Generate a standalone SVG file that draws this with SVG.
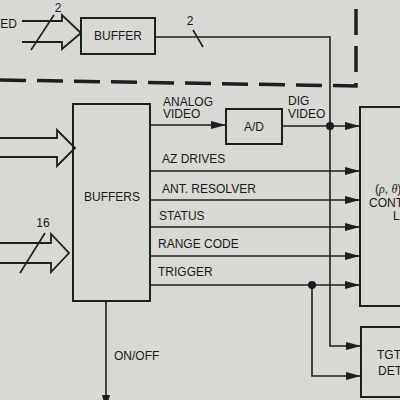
<svg xmlns="http://www.w3.org/2000/svg" width="400" height="400" viewBox="0 0 400 400">
<defs>
<marker id="ah" viewBox="0 0 15 8" refX="15" refY="4" markerWidth="15" markerHeight="8" markerUnits="userSpaceOnUse" orient="auto">
<path d="M0,0 L15,4 L0,8 Z" fill="#1e1e1e"/>
</marker>
<style>
.ln{fill:none;stroke:#1e1e1e;stroke-width:1.6}
.bx{fill:none;stroke:#1e1e1e;stroke-width:2}
.fat{fill:none;stroke:#1e1e1e;stroke-width:1.8;stroke-linejoin:miter}
.t{font-family:"Liberation Sans",Arial,sans-serif;font-size:12px;fill:#1a1a1a}
.it{font-family:"Liberation Serif","Times New Roman",serif;font-style:italic}
.dash{fill:none;stroke:#1e1e1e;stroke-width:3.5;stroke-dasharray:26 11}
</style>
</defs>
<rect width="400" height="400" fill="#d8d8d4"/>

<g id="boundary">
<path class="dash" d="M0,80 L356,86 L356,0"/>
</g>

<g id="input-top">
<text class="t" x="17" y="28" text-anchor="end">EED</text>
<path class="fat" d="M22,21 H62 V15 L81,33 L62,49 V42 H22"/>
<line class="ln" x1="31" y1="50" x2="54" y2="15"/>
<text class="t" x="58" y="12" text-anchor="middle">2</text>
</g>

<g id="buffer">
<rect class="bx" x="81" y="18" width="74" height="36"/>
<text class="t" x="118" y="40" text-anchor="middle">BUFFER</text>
</g>

<g id="input-left-1">
<path class="fat" d="M0,138 H57 V130 L75,148 L57,166 V157 H0"/>
</g>

<g id="input-left-2">
<path class="fat" d="M0,243 H51 V234 L69,253 L51,272 V263 H0"/>
<line class="ln" x1="20" y1="273" x2="45" y2="233"/>
<text class="t" x="43" y="227" text-anchor="middle">16</text>
</g>

<g id="buffers">
<rect class="bx" x="73" y="104" width="77" height="197"/>
<text class="t" x="112" y="201" text-anchor="middle">BUFFERS</text>
</g>

<g id="ad">
<rect class="bx" x="226" y="109" width="56" height="35"/>
<text class="t" x="254" y="131" text-anchor="middle">A/D</text>
</g>

<g id="controller">
<rect class="bx" x="360" y="107" width="50" height="199"/>
<text class="t" x="375" y="193">(<tspan class="it">ρ</tspan>, <tspan class="it">θ</tspan>)</text>
<text class="t" x="369" y="207">CONT</text>
<text class="t" x="393" y="220">L</text>
</g>

<g id="tgt-det">
<rect class="bx" x="361" y="327" width="50" height="70"/>
<text class="t" x="377" y="359">TGT</text>
<text class="t" x="378" y="375">DET</text>
</g>

<g id="connectors">
<path class="ln" d="M155,37 H330 V346 H361" marker-end="url(#ah)"/>
<line class="ln" x1="193" y1="30" x2="203" y2="47"/>
<text class="t" x="190" y="25" text-anchor="middle">2</text>

<line class="ln" x1="150" y1="125" x2="226" y2="125" marker-end="url(#ah)"/>
<line class="ln" x1="282" y1="126" x2="360" y2="126" marker-end="url(#ah)"/>
<circle cx="330" cy="126" r="4" fill="#1e1e1e"/>
<text class="t" x="163" y="106">ANALOG</text>
<text class="t" x="163" y="118">VIDEO</text>
<text class="t" x="288" y="105">DIG</text>
<text class="t" x="288" y="118">VIDEO</text>

<line class="ln" x1="150" y1="171" x2="360" y2="171" marker-end="url(#ah)"/>
<text class="t" x="162" y="163">AZ DRIVES</text>
<line class="ln" x1="150" y1="200" x2="360" y2="200" marker-end="url(#ah)"/>
<text class="t" x="162" y="193">ANT. RESOLVER</text>
<line class="ln" x1="150" y1="227" x2="360" y2="227" marker-end="url(#ah)"/>
<text class="t" x="159" y="220">STATUS</text>
<line class="ln" x1="150" y1="256" x2="360" y2="256" marker-end="url(#ah)"/>
<text class="t" x="158" y="248">RANGE CODE</text>
<line class="ln" x1="150" y1="285" x2="360" y2="285" marker-end="url(#ah)"/>
<text class="t" x="158" y="276">TRIGGER</text>
<circle cx="312" cy="285" r="4" fill="#1e1e1e"/>
<path class="ln" d="M312,285 V376 H361" marker-end="url(#ah)"/>

<line class="ln" x1="106" y1="301" x2="106" y2="410" marker-end="url(#ah)"/>
<text class="t" x="114" y="360">ON/OFF</text>
</g>
</svg>
